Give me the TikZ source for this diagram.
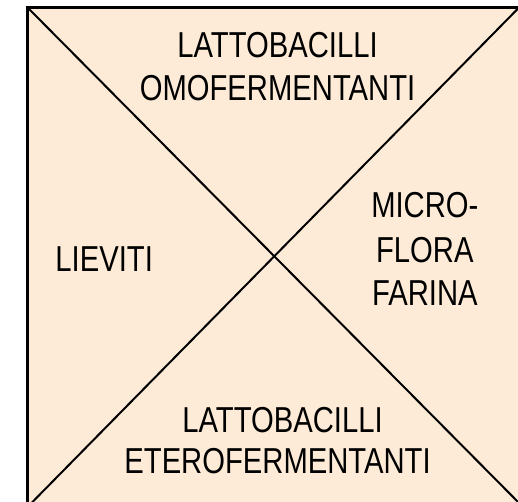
\documentclass[tikz,border=0pt]{standalone}
\usepackage{fontspec}
\setmainfont{Liberation Sans}[FakeStretch=0.81]
\definecolor{peach}{RGB}{253,235,215}
\begin{document}
\begin{tikzpicture}[x=1pt,y=-1pt,
  lab/.style={anchor=base,inner sep=0pt,font=\fontsize{36}{43}\selectfont,text=black},
  edge/.style={draw=black,line width=2.4pt},
  diag/.style={draw=black,line width=2pt}]
\useasboundingbox (0,0) rectangle (517,501);
\coordinate (TL) at (27.5,7.5);
\coordinate (TR) at (522,7.5);
\coordinate (BL) at (27.5,506);
\coordinate (BR) at (522,506);
\coordinate (DTR) at (520,5.5);
\coordinate (DBR) at (520,504);
\fill[peach] (TL) rectangle (BR);
\draw[diag] (TL) -- (DBR);
\draw[diag] (BL) -- (DTR);
\draw[edge] (BL) -- (TL) -- (TR);
\node[lab] (t1) at (277,57) {LATTOBACILLI};
\node[lab] (t2) at (277,100) {OMOFERMENTANTI};
\node[lab] (r1) at (424,217) {MICRO-};
\node[lab] (r2) at (424,262) {FLORA};
\node[lab] (r3) at (424,305) {FARINA};
\node[lab] (l1) at (104,271) {LIEVITI};
\node[lab] (b1) at (282,432) {LATTOBACILLI};
\node[lab] (b2) at (277,473) {ETEROFERMENTANTI};
\end{tikzpicture}
\end{document}
